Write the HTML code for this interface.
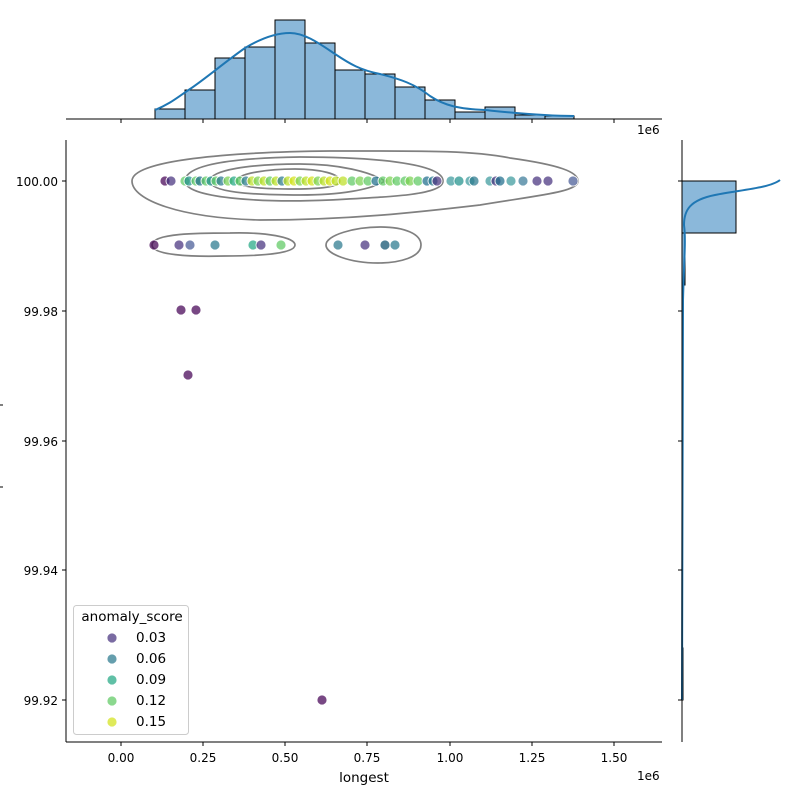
<!DOCTYPE html>
<html><head><meta charset="utf-8"><style>
body{margin:0;background:#fff}
svg text{font-family:"DejaVu Sans","Liberation Sans",sans-serif;font-size:12px;fill:#000}
svg text.big{font-size:13.5px}
</style></head><body>
<svg width="800" height="800" viewBox="0 0 800 800" xmlns="http://www.w3.org/2000/svg">
<g fill="#8bb8da" stroke="#000" stroke-width="1">
<rect x="155" y="109" width="30" height="10"/>
<rect x="185" y="90" width="30" height="29"/>
<rect x="215" y="58" width="30" height="61"/>
<rect x="245" y="47" width="30" height="72"/>
<rect x="275" y="20" width="30" height="99"/>
<rect x="305" y="43" width="30" height="76"/>
<rect x="335" y="70" width="30" height="49"/>
<rect x="365" y="74" width="30" height="45"/>
<rect x="395" y="87" width="30" height="32"/>
<rect x="425" y="100" width="30" height="19"/>
<rect x="455" y="112" width="30" height="7"/>
<rect x="485" y="107" width="30" height="12"/>
<rect x="515" y="115" width="30" height="4"/>
<rect x="545" y="116" width="29" height="3"/>
</g>
<path d="M155,110 C170,104 178,97 190,89 C205,79 225,62 245,48 C260,39 275,33 290,33 C305,33 320,44 335,54 C350,64 360,70 380,74 C400,79 415,84 430,96 C445,106 460,109 485,110 C505,112 540,116 574,116" fill="none" stroke="#1f77b4" stroke-width="2"/>
<line x1="66" y1="119" x2="662" y2="119" stroke="#000"/>
<g stroke="#000">
<line x1="121" y1="119" x2="121" y2="123"/><line x1="203" y1="119" x2="203" y2="123"/><line x1="285" y1="119" x2="285" y2="123"/><line x1="367" y1="119" x2="367" y2="123"/><line x1="450" y1="119" x2="450" y2="123"/><line x1="532" y1="119" x2="532" y2="123"/><line x1="614" y1="119" x2="614" y2="123"/>
</g>
<text x="637" y="134">1e6</text>
<g fill="#8bb8da" stroke="#000">
<rect x="682" y="181" width="54" height="52"/>
<rect x="682" y="233" width="3" height="52"/>
<rect x="682" y="285" width="1" height="103"/>
<rect x="682" y="648" width="1" height="52"/>
</g>
<path d="M780,180 C770,188 740,190 715,195 C690,200 684,210 684,225 C686,240 684,260 683,300 L682,700" fill="none" stroke="#1f77b4" stroke-width="2"/>
<line x1="682" y1="140" x2="682" y2="742" stroke="#000"/>
<g stroke="#000">
<line x1="678" y1="181" x2="682" y2="181"/><line x1="678" y1="311" x2="682" y2="311"/><line x1="678" y1="441" x2="682" y2="441"/><line x1="678" y1="570" x2="682" y2="570"/><line x1="678" y1="700" x2="682" y2="700"/>
</g>
<line x1="66" y1="140" x2="66" y2="742" stroke="#000"/>
<line x1="66" y1="742" x2="662" y2="742" stroke="#000"/>
<g stroke="#000">
<line x1="121" y1="742" x2="121" y2="746"/><line x1="203" y1="742" x2="203" y2="746"/><line x1="285" y1="742" x2="285" y2="746"/><line x1="367" y1="742" x2="367" y2="746"/><line x1="450" y1="742" x2="450" y2="746"/><line x1="532" y1="742" x2="532" y2="746"/><line x1="614" y1="742" x2="614" y2="746"/>
<line x1="62" y1="181" x2="66" y2="181"/><line x1="62" y1="311" x2="66" y2="311"/><line x1="62" y1="441" x2="66" y2="441"/><line x1="62" y1="570" x2="66" y2="570"/><line x1="62" y1="700" x2="66" y2="700"/>
<line x1="0" y1="405" x2="3" y2="405"/><line x1="0" y1="487" x2="3" y2="487"/>
</g>
<g text-anchor="middle">
<text x="121" y="762">0.00</text><text x="203" y="762">0.25</text><text x="285" y="762">0.50</text><text x="367" y="762">0.75</text><text x="450" y="762">1.00</text><text x="532" y="762">1.25</text><text x="614" y="762">1.50</text>
<text class="big" x="364" y="782">longest</text>
</g>
<text x="637" y="780">1e6</text>
<g text-anchor="end">
<text x="58" y="186">100.00</text><text x="58" y="316">99.98</text><text x="58" y="446">99.96</text><text x="58" y="575">99.94</text><text x="58" y="705">99.92</text>
</g>
<g fill="none" stroke="#808080" stroke-width="1.7">
<path d="M132,181 C132,160 230,152 330,151 C420,151 470,150 510,158 C560,165 578,172 578,181 C578,192 540,195 480,205 C420,212 350,220 260,220 C180,218 132,200 132,181 Z"/>
<path d="M185,181 C185,165 230,158 300,157 C370,157 443,163 443,181 C443,195 390,197 330,200 C260,203 185,198 185,181 Z"/>
<path d="M210,181 C210,170 250,164 300,164 C340,164 370,172 385,181 C370,190 340,195 300,195 C250,195 210,192 210,181 Z"/>
<path d="M237,181 C237,173 270,169 295,169 C320,169 340,174 340,181 C340,187 320,189 295,189 C270,189 237,188 237,181 Z"/>
<path d="M152,245 C152,233 200,233 230,233 C265,232 295,237 295,245 C295,253 265,256 225,256 C190,257 152,255 152,245 Z"/>
<path d="M326,245 C326,235 355,227 380,227 C405,227 421,234 421,245 C421,257 400,263 378,263 C350,263 326,254 326,245 Z"/>
</g>
<g stroke="#fff" stroke-width="0.8" fill-opacity="0.72">
<circle cx="165" cy="181" r="5" fill="#440154"/><circle cx="171" cy="181" r="5" fill="#46327e"/>
<circle cx="185" cy="181" r="5" fill="#5ec962"/><circle cx="189" cy="181" r="5" fill="#21918c"/>
<circle cx="196" cy="181" r="5" fill="#5ec962"/><circle cx="200" cy="181" r="5" fill="#1f6e8c"/>
<circle cx="206" cy="181" r="5" fill="#5ec962"/><circle cx="211" cy="181" r="5" fill="#21918c"/>
<circle cx="216" cy="181" r="5" fill="#5ec962"/><circle cx="221" cy="181" r="5" fill="#2a788e"/>
<circle cx="228" cy="181" r="5" fill="#7ad151"/><circle cx="234" cy="181" r="5" fill="#22a884"/>
<circle cx="240" cy="181" r="5" fill="#5ec962"/><circle cx="246" cy="181" r="5" fill="#2a788e"/>
<circle cx="252" cy="181" r="5" fill="#bddf26"/><circle cx="258" cy="181" r="5" fill="#7ad151"/>
<circle cx="264" cy="181" r="5" fill="#bddf26"/><circle cx="270" cy="181" r="5" fill="#5ec962"/>
<circle cx="276" cy="181" r="5" fill="#bddf26"/><circle cx="282" cy="181" r="5" fill="#2a788e"/>
<circle cx="288" cy="181" r="5" fill="#bddf26"/><circle cx="294" cy="181" r="5" fill="#d2e21b"/>
<circle cx="300" cy="181" r="5" fill="#7ad151"/><circle cx="306" cy="181" r="5" fill="#bddf26"/>
<circle cx="312" cy="181" r="5" fill="#d2e21b"/><circle cx="318" cy="181" r="5" fill="#7ad151"/>
<circle cx="324" cy="181" r="5" fill="#bddf26"/><circle cx="330" cy="181" r="5" fill="#d2e21b"/>
<circle cx="336" cy="181" r="5" fill="#bddf26"/><circle cx="343" cy="181" r="5" fill="#bddf26"/>
<circle cx="352" cy="181" r="5" fill="#5ec962"/><circle cx="360" cy="181" r="5" fill="#7ad151"/>
<circle cx="368" cy="181" r="5" fill="#5ec962"/><circle cx="376" cy="181" r="5" fill="#1f6e8c"/>
<circle cx="383" cy="181" r="5" fill="#5ec962"/><circle cx="390" cy="181" r="5" fill="#7ad151"/>
<circle cx="397" cy="181" r="5" fill="#5ec962"/><circle cx="405" cy="181" r="5" fill="#5ec962"/>
<circle cx="410" cy="181" r="5" fill="#7ad151"/><circle cx="418" cy="181" r="5" fill="#5ec962"/>
<circle cx="427" cy="181" r="5" fill="#1f6e8c"/><circle cx="433" cy="181" r="5" fill="#2a788e"/>
<circle cx="437" cy="181" r="5" fill="#46327e"/>
<circle cx="451" cy="181" r="5" fill="#3b9a9c"/><circle cx="459" cy="181" r="5" fill="#21918c"/>
<circle cx="470" cy="181" r="5" fill="#3b9a9c"/><circle cx="474" cy="181" r="5" fill="#2a788e"/>
<circle cx="490" cy="181" r="5" fill="#3b9a9c"/><circle cx="496" cy="181" r="5" fill="#46327e"/>
<circle cx="500" cy="181" r="5" fill="#1f6e8c"/><circle cx="511" cy="181" r="5" fill="#3b9a9c"/>
<circle cx="523" cy="181" r="5" fill="#3a7a99"/><circle cx="537" cy="181" r="5" fill="#46327e"/>
<circle cx="548" cy="181" r="5" fill="#46327e"/><circle cx="573" cy="181" r="5" fill="#475a96"/>
<circle cx="154" cy="245" r="5" fill="#440154"/><circle cx="179" cy="245" r="5" fill="#46327e"/>
<circle cx="190" cy="245" r="5" fill="#475a96"/><circle cx="215" cy="245" r="5" fill="#2a788e"/>
<circle cx="253" cy="245" r="5" fill="#22a884"/><circle cx="261" cy="245" r="5" fill="#46327e"/>
<circle cx="281" cy="245" r="5" fill="#5ec962"/>
<circle cx="338" cy="245" r="5" fill="#2a788e"/><circle cx="365" cy="245" r="5" fill="#46327e"/>
<circle cx="385" cy="245" r="5" fill="#0b4f6c"/><circle cx="395" cy="245" r="5" fill="#2a788e"/>
<circle cx="181" cy="310" r="5" fill="#440154"/><circle cx="196" cy="310" r="5" fill="#440154"/>
<circle cx="188" cy="375" r="5" fill="#440154"/><circle cx="322" cy="700" r="5" fill="#440154"/>
</g>
<rect x="73.5" y="605.5" width="115" height="129" rx="3" fill="#fff" fill-opacity="0.8" stroke="#ccc"/>
<text class="big" x="132" y="621" text-anchor="middle">anomaly_score</text>
<g fill-opacity="0.72" stroke="#fff" stroke-width="0.8">
<circle cx="112" cy="638" r="5" fill="#46327e"/>
<circle cx="112" cy="659" r="5" fill="#2a788e"/>
<circle cx="112" cy="680" r="5" fill="#22a884"/>
<circle cx="112" cy="701" r="5" fill="#5ec962"/>
<circle cx="112" cy="722" r="5" fill="#d2e21b"/>
</g>
<g class="big">
<text class="big" x="136" y="642">0.03</text><text class="big" x="136" y="663">0.06</text><text class="big" x="136" y="684">0.09</text><text class="big" x="136" y="705">0.12</text><text class="big" x="136" y="726">0.15</text>
</g>
</svg>
</body></html>
